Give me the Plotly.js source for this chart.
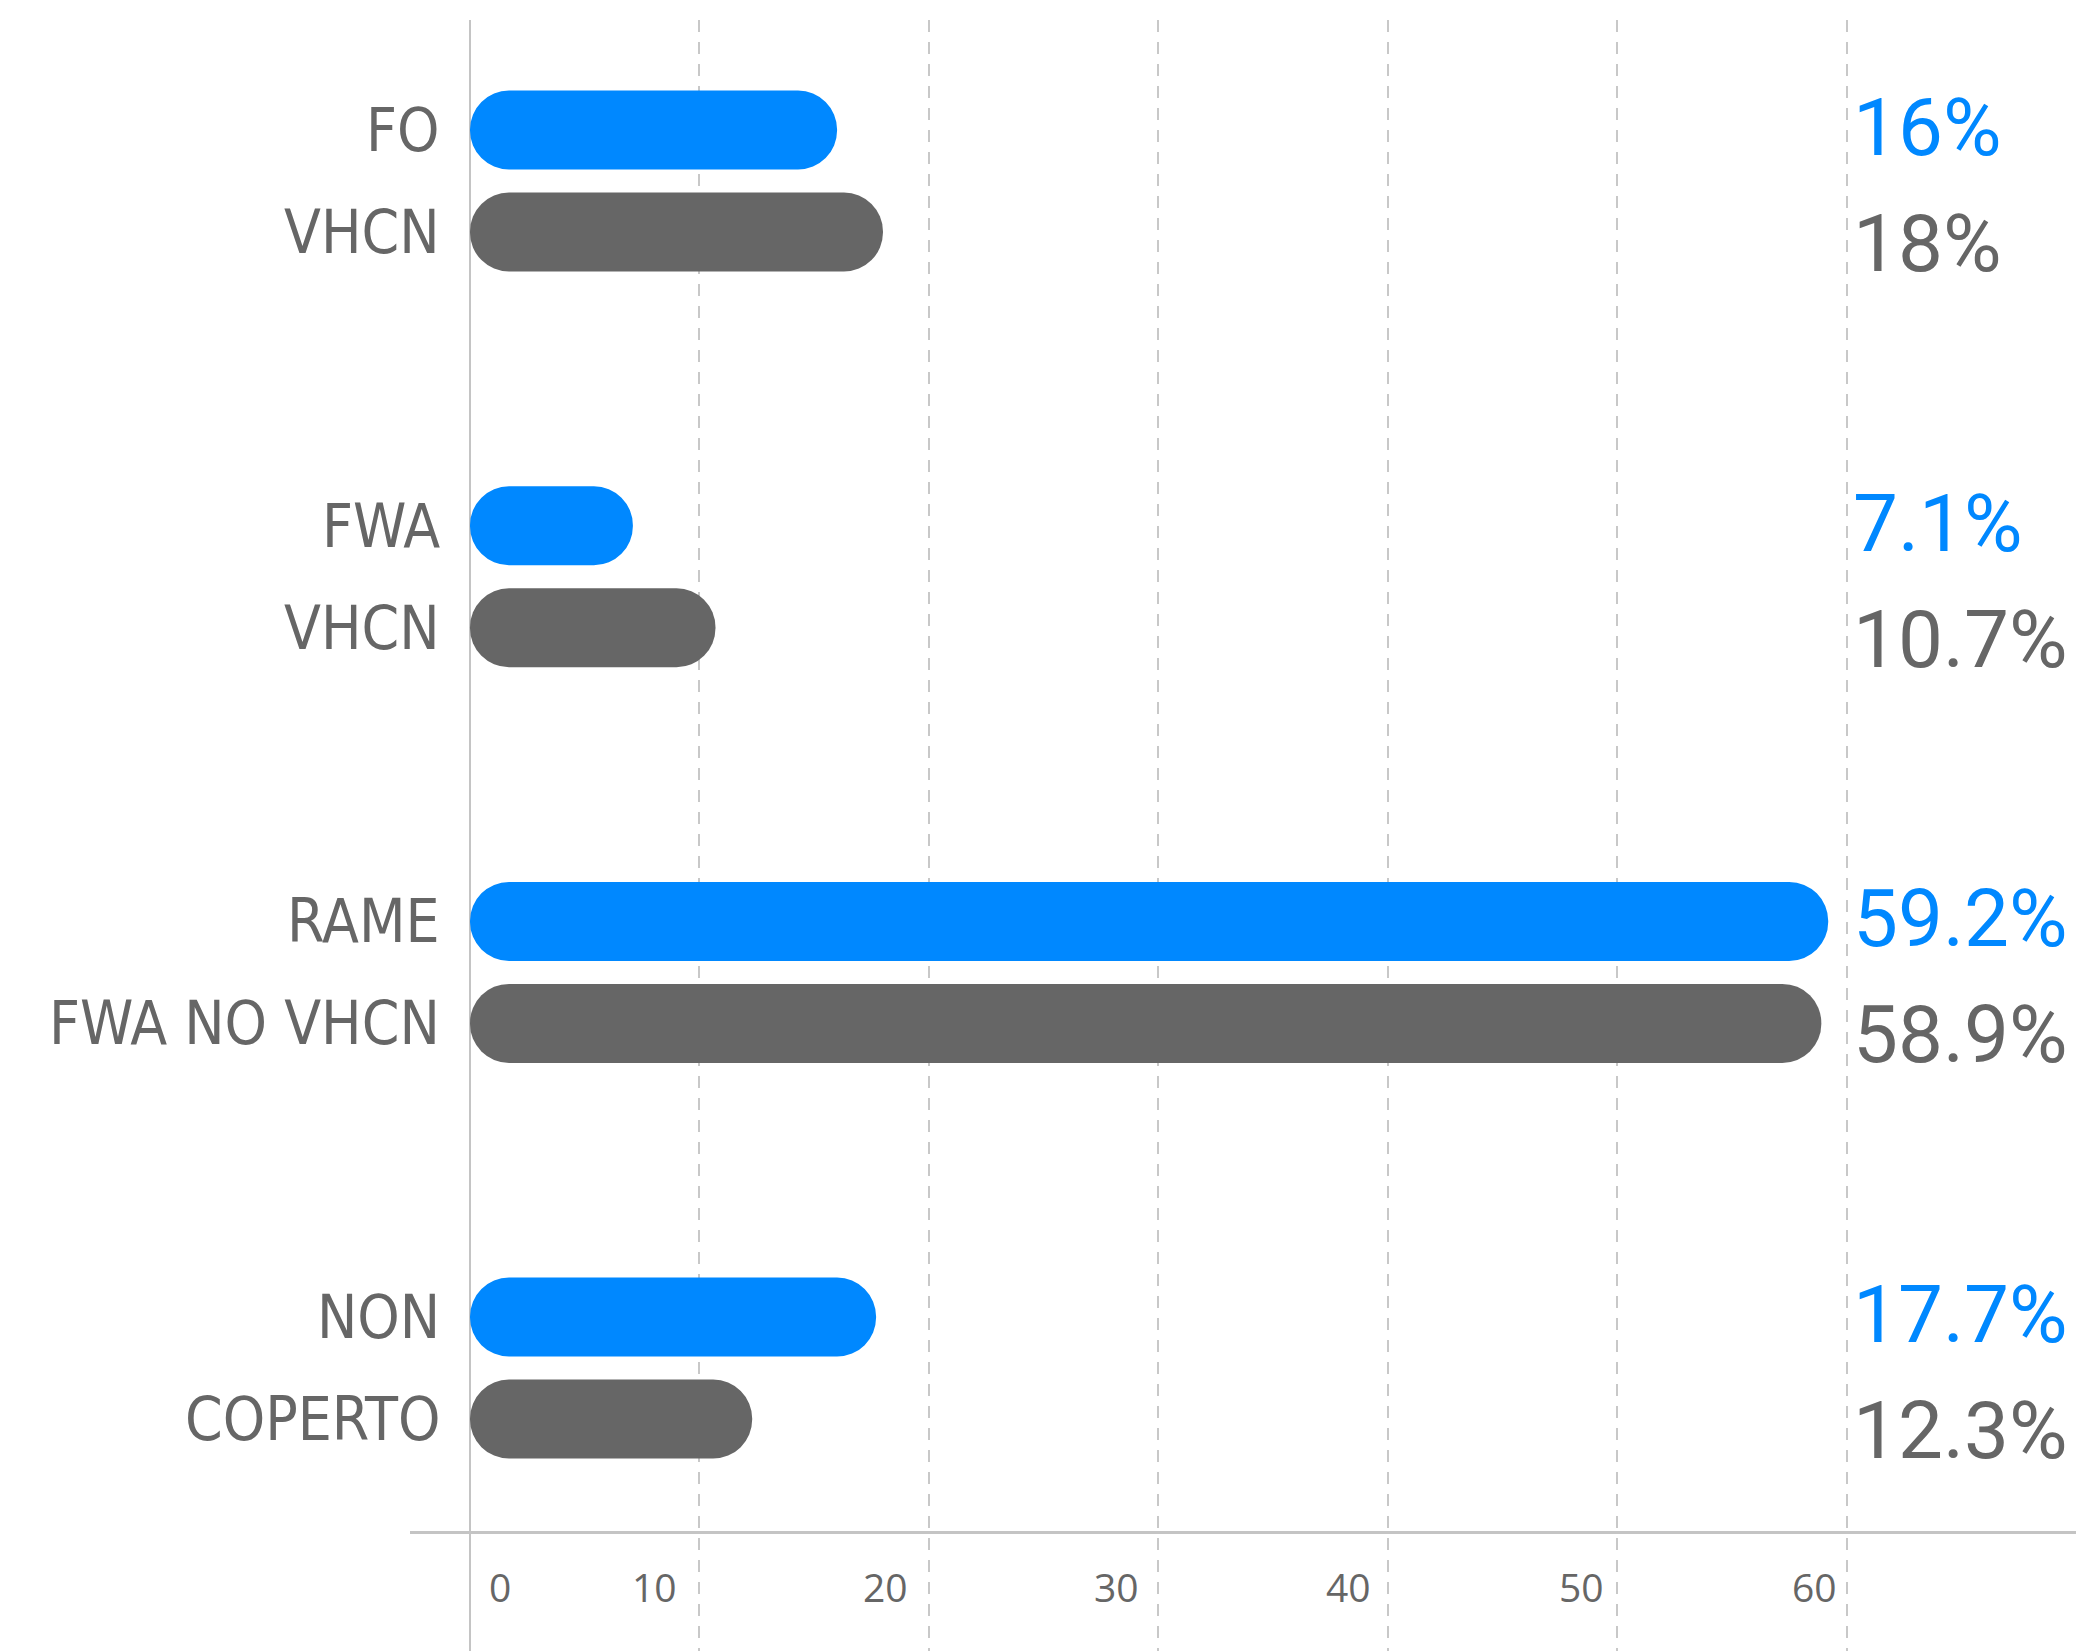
<!DOCTYPE html>
<html>
<head>
<meta charset="utf-8">
<script src="https://cdn.plot.ly/plotly-3.0.1.min.js"></script>
<style>html,body{margin:0;padding:0;background:#fff;}#chart{width:2076px;height:1651px;}</style>
</head>
<body>
<div id="chart"></div>
<script>
const groups = ['g1', 'g2', 'g3', 'g4'];
const blueLabels = ['FO', 'FWA', 'RAME', 'NON'];
const grayLabels = ['VHCN', 'VHCN', 'FWA NO VHCN', 'COPERTO'];
const blueValues = [16, 7.1, 59.2, 17.7];
const grayValues = [18, 10.7, 58.9, 12.3];
const gridValues = [10, 20, 30, 40, 50, 60];
const tickLabels = ['0', '10', '20', '30', '40', '50', '60'];
const tickLabelPos = [1.31, 8.02, 18.09, 28.2, 38.3, 48.46, 58.6];

const BLUE = '#0088ff';
const GRAY = '#666666';

function pill(values, color, group) {
  return {
    type: 'bar', orientation: 'h', y: groups, offsetgroup: group,
    x: values, base: values.map(() => 0),
    marker: { color: color, cornerradius: '50%', line: { width: 0 } },
    hoverinfo: 'skip', showlegend: false
  };
}

const data = [pill(blueValues, BLUE, 'a'), pill(grayValues, GRAY, 'b')];

const catFont = { family: 'DejaVu Sans Condensed, Roboto, sans-serif', size: 60, color: GRAY };
const valFont = { family: 'Roboto, sans-serif', size: 80 };
const tickFont = { family: 'Open Sans, sans-serif', size: 39, color: GRAY };
const axisPos = 0.073;
const annotations = [];
groups.forEach((g, i) => {
  annotations.push({ xref: 'x', yref: 'y', x: 0, y: g, xanchor: 'right', yanchor: 'middle', xshift: -28, yshift: 51,
    text: blueLabels[i], showarrow: false, font: catFont });
  annotations.push({ xref: 'x', yref: 'y', x: 0, y: g, xanchor: 'right', yanchor: 'middle', xshift: -28, yshift: -51,
    text: grayLabels[i], showarrow: false, font: catFont });
  annotations.push({ xref: 'paper', yref: 'y', x: 0.865, y: g, xanchor: 'left', yanchor: 'middle', yshift: 53,
    text: blueValues[i] + '%', showarrow: false, font: Object.assign({}, valFont, { color: BLUE }) });
  annotations.push({ xref: 'paper', yref: 'y', x: 0.865, y: g, xanchor: 'left', yanchor: 'middle', yshift: -63,
    text: grayValues[i] + '%', showarrow: false, font: Object.assign({}, valFont, { color: GRAY }) });
});
tickLabels.forEach((t, i) => {
  annotations.push({ xref: 'x', yref: 'paper', x: tickLabelPos[i], y: axisPos, xanchor: 'center', yanchor: 'middle',
    yshift: -55, text: t, showarrow: false, font: tickFont });
});

const layout = {
  width: 2076, height: 1651,
  margin: { l: 410, r: 0, t: 20, b: 0, pad: 0 },
  paper_bgcolor: '#ffffff', plot_bgcolor: '#ffffff',
  barmode: 'group', bargap: 0.4845, bargroupgap: 0.2255,
  showlegend: false,
  xaxis: {
    range: [-2.615, 70.0], anchor: 'free', position: axisPos,
    tickmode: 'array', tickvals: gridValues, showticklabels: false, ticks: '',
    showgrid: true, gridcolor: '#c8c8c8', gridwidth: 2, griddash: '12px,10px',
    zeroline: true, zerolinecolor: '#c4c4c4', zerolinewidth: 2,
    showline: true, linecolor: '#c4c4c4', linewidth: 3, fixedrange: true
  },
  yaxis: {
    type: 'category', categoryorder: 'array', categoryarray: groups,
    range: [3.715, -0.407], showticklabels: false, ticks: '',
    showgrid: false, zeroline: false, showline: false, fixedrange: true
  },
  annotations: annotations
};

Plotly.newPlot('chart', data, layout, { displayModeBar: false, staticPlot: true });
</script>
</body>
</html>
